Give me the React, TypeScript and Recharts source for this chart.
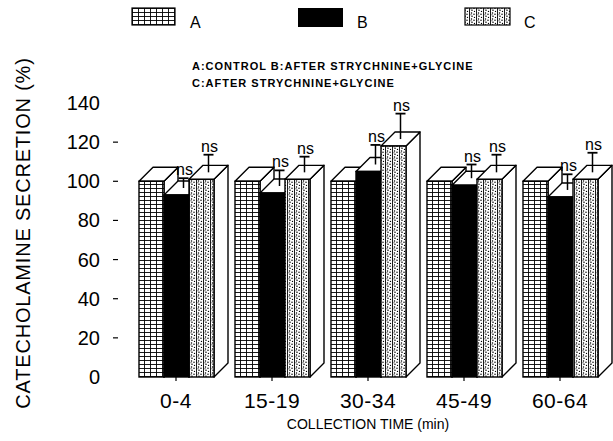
import { BarChart, Bar, XAxis, YAxis } from "recharts";

const times = ["0-4", "15-19", "30-34", "45-49", "60-64"];
const control = [100, 100, 100, 100, 100];
const afterB = [93, 94, 105, 98, 92];
const afterC = [101, 101, 118, 101, 101];
const errB = [5, 8, 10, 7, 8];
const errC = [9, 8, 13, 9, 10];
const yTicks = [0, 20, 40, 60, 80, 100, 120, 140];

const data = times.map((t, i) => ({
  t,
  a: control[i],
  b: afterB[i],
  c: afterC[i],
  bErr: errB[i],
  cErr: errC[i],
}));

const FONT = "'Liberation Sans', Arial, Helvetica, sans-serif";
const DX = 14;
const DY = 14;

function Box3D(props: any) {
  const { x, y, width: w, height: h, payload, fillId, dataKey, errKey } = props;
  if (h == null || w == null) return null;
  const err = errKey ? payload[errKey] : 0;
  const ppu = h / payload[dataKey];
  const cx = x + w / 2 + DX / 2;
  const cy = y - DY / 2;
  const top = cy - err * ppu;
  return (
    <g>
      <polygon
        points={`${x + w},${y} ${x + w + DX},${y - DY} ${x + w + DX},${y + h - DY} ${x + w},${y + h}`}
        fill="#fff"
        stroke="#000"
        strokeWidth={1.4}
        strokeLinejoin="round"
      />
      <polygon
        points={`${x},${y} ${x + DX},${y - DY} ${x + w + DX},${y - DY} ${x + w},${y}`}
        fill="#fff"
        stroke="#000"
        strokeWidth={1.4}
        strokeLinejoin="round"
      />
      <rect x={x} y={y} width={w} height={h} fill={`url(#${fillId})`} stroke="#000" strokeWidth={1.4} />
      {err ? (
        <g>
          <line x1={cx} x2={cx} y1={cy} y2={top} stroke="#000" strokeWidth={1.5} />
          <line x1={cx - 5} x2={cx + 5} y1={top} y2={top} stroke="#000" strokeWidth={1.8} />
          <text x={cx + 1} y={top - 3} textAnchor="middle" fontSize={16} fontFamily={FONT} fill="#000">
            ns
          </text>
        </g>
      ) : null}
    </g>
  );
}

const YTick = ({ y, payload }: any) => {
  const v = payload.value;
  return (
    <g>
      <text x={100} y={y} dy={7} textAnchor="end" fontSize={20} fontFamily={FONT} fill="#000">
        {v}
      </text>
      {v !== 0 && v !== 140 ? <line x1={113} x2={118} y1={y} y2={y} stroke="#000" strokeWidth={1.2} /> : null}
    </g>
  );
};

const XTick = ({ x, y, payload }: any) => (
  <text x={x} y={y} dy={25} textAnchor="middle" fontSize={21} letterSpacing={0.5} fontFamily={FONT} fill="#000">
    {payload.value}
  </text>
);

export default function App() {
  return (
    <div style={{ position: "absolute", left: 0, top: 0, width: 613, height: 441, background: "#fff", fontFamily: FONT }}>
      <BarChart
        width={613}
        height={441}
        data={data}
        margin={{ top: 103, right: 5, bottom: 0, left: 0 }}
        barSize={25}
        barGap={0}
      >
        <XAxis
          dataKey="t"
          height={64}
          axisLine={false}
          tickLine={{ stroke: "#000", strokeWidth: 1.2 }}
          tickSize={4}
          tick={<XTick />}
          interval={0}
          label={{
            value: "COLLECTION TIME (min)",
            position: "insideBottom",
            offset: 12,
            fontSize: 14,
            fill: "#000",
            fontFamily: FONT,
          }}
        />
        <YAxis
          width={128}
          domain={[0, 140]}
          ticks={yTicks}
          interval={0}
          axisLine={false}
          tickLine={false}
          tick={<YTick />}
          label={{
            value: "CATECHOLAMINE SECRETION (%)",
            angle: -90,
            position: "center",
            dx: -41,
            dy: -7,
            fontSize: 20,
            letterSpacing: 0.8,
            fill: "#000",
            fontFamily: FONT,
          }}
        />
        <Bar
          dataKey="a"
          isAnimationActive={false}
          shape={(p: any) => <Box3D {...p} fillId="patA" dataKey="a" />}
        />
        <Bar
          dataKey="b"
          isAnimationActive={false}
          shape={(p: any) => <Box3D {...p} fillId="patB" dataKey="b" errKey="bErr" />}
        />
        <Bar
          dataKey="c"
          isAnimationActive={false}
          shape={(p: any) => <Box3D {...p} fillId="patC" dataKey="c" errKey="cErr" />}
        />
      </BarChart>
      <svg
        width={613}
        height={95}
        style={{ position: "absolute", left: 0, top: 0, pointerEvents: "none" }}
      >
        <defs>
          <pattern id="patA" width={6} height={4} patternUnits="userSpaceOnUse">
            <rect width={6} height={4} fill="#fff" />
            <path d="M0 0.5 H6 M0.5 0 V4" stroke="#000" strokeWidth={0.9} />
          </pattern>
          <pattern id="patB" width={4} height={4} patternUnits="userSpaceOnUse">
            <rect width={4} height={4} fill="#000" />
          </pattern>
          <pattern id="patC" width={7} height={6} patternUnits="userSpaceOnUse">
            <rect width={7} height={6} fill="#fff" />
            <path d="M0.5 0 V6" stroke="#000" strokeWidth={0.9} />
            <circle cx={2.5} cy={1} r={0.75} fill="#000" />
            <circle cx={5} cy={2.3} r={0.75} fill="#000" />
            <circle cx={3} cy={4.2} r={0.75} fill="#000" />
            <circle cx={5.5} cy={5.5} r={0.65} fill="#000" />
            <circle cx={2} cy={2.8} r={0.55} fill="#000" />
          </pattern>
        </defs>
        <rect x={132} y={8} width={43} height={17} fill="url(#patA)" stroke="#000" strokeWidth={1.2} />
        <text x={190} y={28} fontSize={16} fontFamily={FONT} fill="#000">A</text>
        <rect x={298} y={8} width={45} height={19} fill="#000" />
        <text x={357} y={28} fontSize={16} fontFamily={FONT} fill="#000">B</text>
        <rect x={465} y={8} width={45} height={17} fill="url(#patC)" stroke="#000" strokeWidth={1.2} />
        <text x={524} y={28} fontSize={16} fontFamily={FONT} fill="#000">C</text>
        <text x={192} y={70} fontSize={11} fontWeight="bold" letterSpacing={1} fontFamily={FONT} fill="#000">
          A:CONTROL B:AFTER STRYCHNINE+GLYCINE
        </text>
        <text x={192} y={87} fontSize={11} fontWeight="bold" letterSpacing={1} fontFamily={FONT} fill="#000">
          C:AFTER STRYCHNINE+GLYCINE
        </text>
      </svg>
    </div>
  );
}
